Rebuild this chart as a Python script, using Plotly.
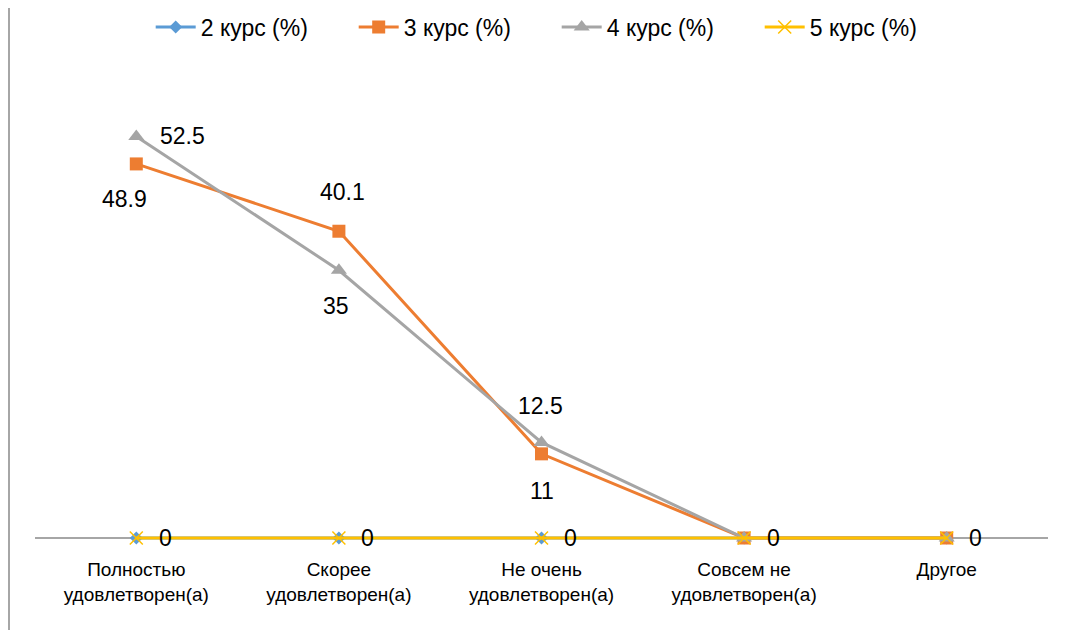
"""Удовлетворённость по курсам — линейный график (Plotly)."""

import plotly.graph_objects as go

# ===== ДАННЫЕ =====
categories = [
    "Полностью<br>удовлетворен(а)",
    "Скорее<br>удовлетворен(а)",
    "Не очень<br>удовлетворен(а)",
    "Совсем не<br>удовлетворен(а)",
    "Другое",
]
kurs2 = [0, 0, 0, 0, 0]
kurs3 = [48.9, 40.1, 11, 0, 0]
kurs4 = [52.5, 35, 12.5, 0, 0]
kurs5 = [0, 0, 0, 0, 0]

series_names = ["2 курс (%)", "3 курс (%)", "4 курс (%)", "5 курс (%)"]

# ===== СТИЛИ =====
FONT = "Liberation Sans, Arial, sans-serif"
colors = ["#5B9BD5", "#ED7D31", "#A5A5A5", "#FFC000"]
symbols = ["diamond", "square", "triangle-up", "x-thin-open"]
marker_sizes = [10, 13, 14, 13]

# Сдвиги подписей данных (px) для каждой точки
zero_shift = (29, 0)
label_shifts = [
    [zero_shift] * 5,
    [(-12, -35), (4, 39), (0, -37), zero_shift, zero_shift],
    [(46, 0), (-3, -36), (-1, 36), zero_shift, zero_shift],
    [zero_shift] * 5,
]

# Страница браузера добавляет отступ 8px слева и сверху
W, H = 1057, 622
M_L, M_R, M_T, M_B = 27, 17, 71, 87
plot_w = W - M_L - M_R
plot_h = H - M_T - M_B
PAD = 5  # px под нулевой линией, чтобы линии на нуле не обрезались
Y_MAX = 60
y_min = -PAD * Y_MAX / (plot_h - PAD)

x_idx = list(range(len(categories)))
all_series = [kurs2, kurs3, kurs4, kurs5]

fig = go.Figure()

for name, values, color, symbol, size in zip(
    series_names, all_series, colors, symbols, marker_sizes
):
    marker = dict(symbol=symbol, size=size, color=color)
    if symbol.startswith("x"):
        marker["line"] = dict(color=color, width=1.5)
    fig.add_trace(go.Scatter(
        x=x_idx,
        y=values,
        name=name,
        mode="lines+markers",
        line=dict(color=color, width=3),
        marker=marker,
        cliponaxis=False,
    ))

# ===== ПОДПИСИ ДАННЫХ =====
# одинаковые подписи в одной точке (нули) рисуем один раз
drawn = set()
for values, shifts in zip(all_series, label_shifts):
    for i, (v, (dx, dy)) in enumerate(zip(values, shifts)):
        if (i, v) in drawn:
            continue
        drawn.add((i, v))
        fig.add_annotation(
            x=i, y=v,
            text=f"{v:g}",
            showarrow=False,
            xshift=dx, yshift=dy,
            font=dict(family=FONT, size=23, color="#000000"),
        )

# ===== РАМКА СЛЕВА =====
border_x = -(M_L - 1) / plot_w
fig.add_shape(
    type="line", xref="paper", yref="paper",
    x0=border_x, x1=border_x,
    y0=-(M_B + 10) / plot_h, y1=(plot_h + M_T + 10) / plot_h,
    line=dict(color="#A6A6A6", width=2),
)

# ===== LAYOUT =====
fig.update_layout(
    width=W,
    height=H,
    paper_bgcolor="white",
    plot_bgcolor="white",
    margin=dict(l=M_L, r=M_R, t=M_T, b=M_B, autoexpand=False),
    font=dict(family=FONT, size=19, color="#000000"),
    showlegend=True,
    legend=dict(
        orientation="h",
        x=0.515, xanchor="center",
        y=1 + (M_T - 19) / plot_h, yanchor="middle",
        font=dict(family=FONT, size=23, color="#000000"),
        entrywidth=148,
        itemwidth=40,
    ),
    xaxis=dict(
        range=[-0.5, len(categories) - 0.5],
        tickmode="array",
        tickvals=x_idx,
        ticktext=categories,
        showgrid=False,
        zeroline=False,
        showline=False,
        ticks="",
        ticklabelstandoff=13,
        tickfont=dict(family=FONT, size=19, color="#000000"),
    ),
    yaxis=dict(
        range=[y_min, Y_MAX],
        showticklabels=False,
        ticks="",
        showgrid=False,
        showline=False,
        zeroline=True,
        zerolinecolor="#A6A6A6",
        zerolinewidth=1.5,
    ),
)

fig.write_html("out.html")
